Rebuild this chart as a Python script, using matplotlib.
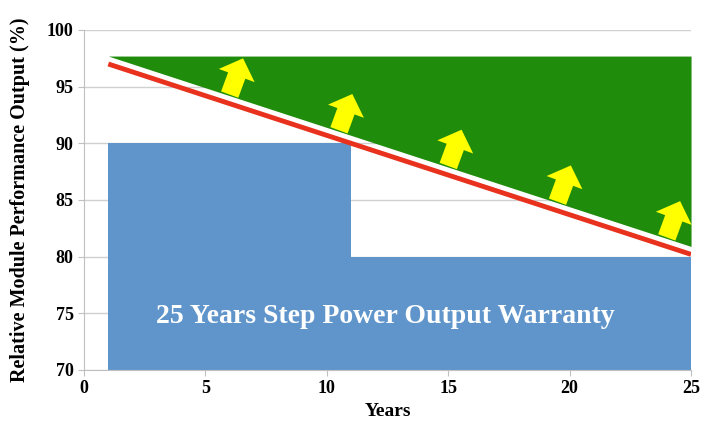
import matplotlib.pyplot as plt

plt.rcParams['font.family'] = ['Liberation Serif', 'DejaVu Serif']
plt.rcParams['font.weight'] = 'bold'

# warranty step: level valid from each year onwards
step_years = [1, 11, 25]
step_levels = [90, 80, 80]

# linear warranty: 97% in year 1, -0.7%/year down to year 25
line_years = [1, 25]
line_values = [97.0, 80.2]

# green "actual output" region, bounded below by a line just above the red one
green_years = [1, 25]
green_bottom = [97.7, 80.9]
green_top = 97.7

# yellow arrows (start year, start value)
arrow_x0 = [6.0, 10.5, 15.0, 19.5, 24.0]
arrow_y0 = [94.3, 91.15, 88.0, 84.85, 81.7]
arrow_dx = 0.55
arrow_dy = 3.2

fig = plt.figure(figsize=(7.03, 4.26), dpi=100)
ax = fig.add_axes([0.1195, 0.1315, 0.8635, 0.7981])

ax.fill_between(step_years, step_levels, 70, step='post', color='#5f95cb', lw=0, zorder=2)
ax.fill_between(green_years, green_bottom, green_top, color='#1f8c0b', lw=0, zorder=2)
ax.plot(line_years, line_values, color='#e8321e', lw=3.5, solid_capstyle='butt', zorder=4)

for x0, y0 in zip(arrow_x0, arrow_y0):
    ax.annotate('', xy=(x0 + arrow_dx, y0 + arrow_dy), xytext=(x0, y0),
                arrowprops=dict(arrowstyle='simple,head_length=0.6,head_width=1.25,tail_width=0.6',
                                fc='#ffff00', ec='#ffff00', lw=0, mutation_scale=22,
                                shrinkA=0, shrinkB=0),
                zorder=5)

ax.text(12.4, 74.7, '25 Years Step Power Output Warranty', color='white',
        fontsize=20, fontweight='bold', ha='center', va='center', zorder=6)

ax.set_xlim(0, 25)
ax.set_ylim(70, 100)
ax.set_xticks(range(0, 26, 5))
ax.set_yticks(range(70, 101, 5))
ax.grid(axis='y', color='#d0d0d0', lw=1, zorder=0)
ax.set_axisbelow(True)
for s in ['top', 'right']:
    ax.spines[s].set_visible(False)
for s in ['left', 'bottom']:
    ax.spines[s].set_color('#c0c0c0')
ax.tick_params(colors='#c0c0c0', labelcolor='black', labelsize=13, length=4)
ax.set_xlabel('Years', fontsize=14, fontweight='bold', labelpad=4)
ax.set_ylabel('Relative Module Performance Output (%)', fontsize=14.5, fontweight='bold', labelpad=12)

fig.savefig('out.png', dpi=100)
